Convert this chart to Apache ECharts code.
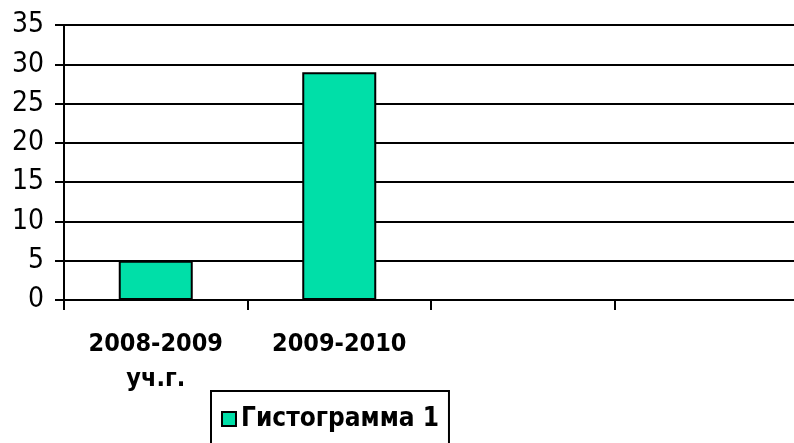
<!DOCTYPE html>
<html>
<head>
<meta charset="utf-8">
<script src="https://cdn.jsdelivr.net/npm/echarts@6/dist/echarts.min.js"></script>
<style>
  html, body { margin: 0; padding: 0; background: #fff; }
  #chart { width: 794px; height: 443px; }
</style>
</head>
<body>
<div id="chart"></div>
<script>
var categories = ['2008-2009\nуч.г.', '2009-2010', '', ''];
var seriesName = 'Гистограмма 1';
var values = [5, 29, null, null];
var yMin = 0, yMax = 35, yStep = 5;

var chartDom = document.getElementById('chart');
var myChart = echarts.init(chartDom);
var barColor = '#00DFA8';
var font = '"DejaVu Sans Condensed", "DejaVu Sans", sans-serif';

var option = {
  animation: false,
  grid: {
    left: 64,
    top: 25,
    bottom: 143,
    width: 734,
    outerBoundsMode: 'none'
  },
  legend: {
    data: [seriesName],
    left: 211,
    top: 391,
    orient: 'horizontal',
    padding: [15, 10, 30, 10],
    borderColor: '#000',
    borderWidth: 2,
    itemWidth: 14,
    itemHeight: 14,
    itemGap: 6,
    icon: 'rect',
    textStyle: {
      fontFamily: font,
      fontWeight: 'bold',
      fontSize: 26,
      color: '#000'
    }
  },
  xAxis: {
    type: 'category',
    data: categories,
    boundaryGap: true,
    axisLine: { lineStyle: { color: '#000', width: 2 } },
    axisTick: { show: true, length: 10, lineStyle: { color: '#000', width: 2 }, interval: 0 },
    axisLabel: {
      interval: 0,
      margin: 27,
      color: '#000',
      fontFamily: font,
      fontWeight: 'bold',
      fontSize: 25,
      lineHeight: 35
    },
    splitLine: { show: false }
  },
  yAxis: {
    type: 'value',
    min: yMin,
    max: yMax,
    interval: yStep,
    axisLine: { show: true, lineStyle: { color: '#000', width: 2 } },
    axisTick: { show: true, length: 9, lineStyle: { color: '#000', width: 2 } },
    axisLabel: {
      margin: 20,
      color: '#000',
      fontFamily: font,
      fontSize: 28
    },
    splitLine: { show: true, lineStyle: { color: '#000', width: 2 } }
  },
  series: [{
    name: seriesName,
    type: 'bar',
    data: values,
    barWidth: 74,
    itemStyle: {
      color: barColor,
      borderColor: '#000',
      borderWidth: 2
    }
  }]
};

option && myChart.setOption(option);
</script>
</body>
</html>
